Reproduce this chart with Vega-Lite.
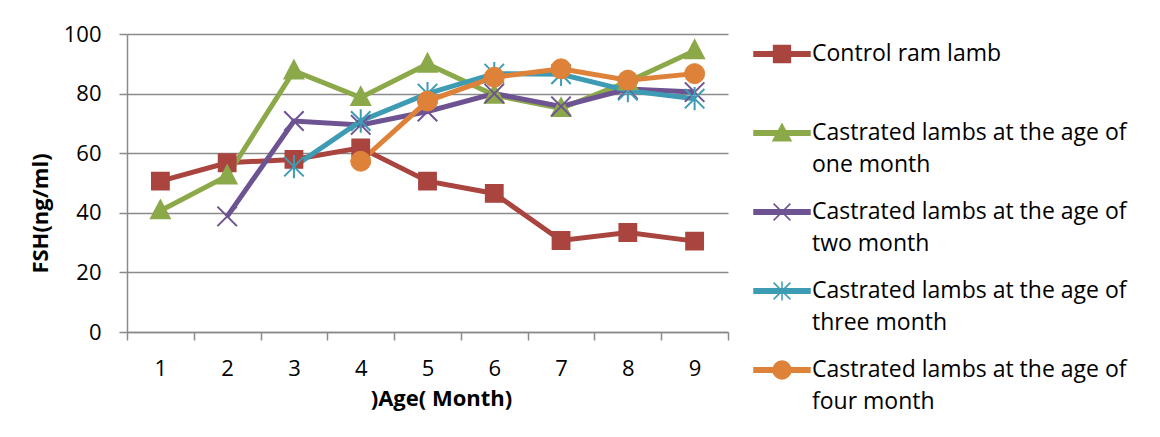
{
  "$schema": "https://vega.github.io/schema/vega-lite/v6.json",
  "width": 601,
  "height": 298,
  "autosize": {"type": "none"},
  "padding": {"left": 127, "top": 34, "right": 432, "bottom": 105},
  "background": "white",
  "config": {
    "font": "Open Sans",
    "view": {"stroke": null},
    "axis": {"labelColor": "#000000", "titleColor": "#000000"}
  },
  "data": {
    "values": [
      {"month": 1, "series": "Control ram lamb", "fsh": 50.6},
      {"month": 2, "series": "Control ram lamb", "fsh": 56.8},
      {"month": 3, "series": "Control ram lamb", "fsh": 57.9},
      {"month": 4, "series": "Control ram lamb", "fsh": 61.8},
      {"month": 5, "series": "Control ram lamb", "fsh": 50.6},
      {"month": 6, "series": "Control ram lamb", "fsh": 46.5},
      {"month": 7, "series": "Control ram lamb", "fsh": 30.7},
      {"month": 8, "series": "Control ram lamb", "fsh": 33.4},
      {"month": 9, "series": "Control ram lamb", "fsh": 30.5},
      {"month": 1, "series": "Castrated lambs at the age of one month", "fsh": 40.7},
      {"month": 2, "series": "Castrated lambs at the age of one month", "fsh": 52.4},
      {"month": 3, "series": "Castrated lambs at the age of one month", "fsh": 87.6},
      {"month": 4, "series": "Castrated lambs at the age of one month", "fsh": 78.7},
      {"month": 5, "series": "Castrated lambs at the age of one month", "fsh": 89.9},
      {"month": 6, "series": "Castrated lambs at the age of one month", "fsh": 79.5},
      {"month": 7, "series": "Castrated lambs at the age of one month", "fsh": 75.0},
      {"month": 8, "series": "Castrated lambs at the age of one month", "fsh": 84.0},
      {"month": 9, "series": "Castrated lambs at the age of one month", "fsh": 94.4},
      {"month": 2, "series": "Castrated lambs at the age of two month", "fsh": 38.8},
      {"month": 3, "series": "Castrated lambs at the age of two month", "fsh": 70.8},
      {"month": 4, "series": "Castrated lambs at the age of two month", "fsh": 69.5},
      {"month": 5, "series": "Castrated lambs at the age of two month", "fsh": 74.0},
      {"month": 6, "series": "Castrated lambs at the age of two month", "fsh": 80.0},
      {"month": 7, "series": "Castrated lambs at the age of two month", "fsh": 75.7},
      {"month": 8, "series": "Castrated lambs at the age of two month", "fsh": 81.5},
      {"month": 9, "series": "Castrated lambs at the age of two month", "fsh": 80.5},
      {"month": 3, "series": "Castrated lambs at the age of three month", "fsh": 55.5},
      {"month": 4, "series": "Castrated lambs at the age of three month", "fsh": 70.8},
      {"month": 5, "series": "Castrated lambs at the age of three month", "fsh": 80.0},
      {"month": 6, "series": "Castrated lambs at the age of three month", "fsh": 86.7},
      {"month": 7, "series": "Castrated lambs at the age of three month", "fsh": 86.5},
      {"month": 8, "series": "Castrated lambs at the age of three month", "fsh": 81.0},
      {"month": 9, "series": "Castrated lambs at the age of three month", "fsh": 78.3},
      {"month": 4, "series": "Castrated lambs at the age of four month", "fsh": 57.3},
      {"month": 5, "series": "Castrated lambs at the age of four month", "fsh": 77.5},
      {"month": 6, "series": "Castrated lambs at the age of four month", "fsh": 85.5},
      {"month": 7, "series": "Castrated lambs at the age of four month", "fsh": 88.3},
      {"month": 8, "series": "Castrated lambs at the age of four month", "fsh": 84.5},
      {"month": 9, "series": "Castrated lambs at the age of four month", "fsh": 86.7}
    ]
  },
  "resolve": {"axis": {"x": "independent"}},
  "layer": [
    {
      "mark": {"type": "line", "strokeWidth": 5},
      "encoding": {
        "x": {
          "field": "month", "type": "quantitative",
          "scale": {"domain": [0.5, 9.5], "nice": false, "zero": false},
          "axis": {
            "orient": "bottom",
            "values": [0.5, 1.5, 2.5, 3.5, 4.5, 5.5, 6.5, 7.5, 8.5, 9.5],
            "labels": false, "title": null, "grid": false,
            "ticks": true, "tickSize": 8, "tickColor": "#8a8a8a", "tickWidth": 1.5,
            "domain": true, "domainColor": "#8a8a8a", "domainWidth": 1.5
          }
        },
        "y": {
          "field": "fsh", "type": "quantitative",
          "scale": {"domain": [0, 100], "nice": false},
          "axis": {
            "values": [0, 20, 40, 60, 80, 100],
            "title": "FSH(ng/ml)",
            "titleFontSize": 22, "titleFontWeight": "bold",
            "titleX": -87, "titleY": 179, "titleBaseline": "middle", "titleAlign": "center",
            "labelFontSize": 22, "labelPadding": 18,
            "tickSize": 8, "tickColor": "#8a8a8a", "tickWidth": 1.5,
            "domainColor": "#8a8a8a", "domainWidth": 1.5,
            "grid": true, "gridColor": "#8a8a8a", "gridWidth": 1.5
          }
        },
        "color": {
          "field": "series", "type": "nominal",
          "scale": {
            "domain": [
              "Control ram lamb",
              "Castrated lambs at the age of one month",
              "Castrated lambs at the age of two month",
              "Castrated lambs at the age of three month",
              "Castrated lambs at the age of four month"
            ],
            "range": ["#A9443F", "#8CA94A", "#6E5393", "#3D9CB4", "#DF8239"]
          },
          "legend": {
            "orient": "none", "legendX": 626, "legendY": -9,
            "title": null, "padding": 0,
            "symbolSize": 3136, "symbolStrokeWidth": 1.5,
            "rowPadding": 6, "labelOffset": 1,
            "labelFontSize": 23, "labelLimit": 500, "labelColor": "#000000",
            "labelExpr": "indexof(datum.label, 'Castrated') == 0 ? ['\u2005Castrated lambs at the age of', slice(datum.label, 30)] : [datum.label, '\u00a0']",
            "encode": {
              "labels": {"update": {"lineHeight": {"value": 32}}},
              "symbols": {
                "update": {
                  "shape": {"signal": "datum.value == 'Control ram lamb' ? 'M-1,-0.08H1V0.08H-1Z M-0.3,-0.3H0.3V0.3H-0.3Z' : datum.value == 'Castrated lambs at the age of one month' ? 'M-1,-0.08H1V0.08H-1Z M0,-0.32L0.32,0.28H-0.32Z' : datum.value == 'Castrated lambs at the age of two month' ? 'M-1,-0.08H1V0.08H-1Z M-0.3,-0.3L0.3,0.3M-0.3,0.3L0.3,-0.3' : datum.value == 'Castrated lambs at the age of three month' ? 'M-1,-0.08H1V0.08H-1Z M-0.3,-0.3L0.3,0.3M-0.3,0.3L0.3,-0.3M0,-0.34V0.34' : 'M-1,-0.08H1V0.08H-1Z M-0.32,0A0.32,0.32,0,1,1,0.32,0A0.32,0.32,0,1,1,-0.32,0Z'"},
                  "fill": {"signal": "scale('color', datum.value)"},
                  "stroke": {"signal": "scale('color', datum.value)"},
                  "strokeWidth": {"value": 1.5},
                  "opacity": {"value": 1}
                }
              }
            }
          }
        }
      }
    },
    {
      "transform": [{"filter": "datum.series == 'Control ram lamb'"}],
      "mark": {"type": "point", "shape": "square", "filled": true, "opacity": 1, "size": 300, "color": "#A9443F", "stroke": "#A9443F", "strokeWidth": 1.5},
      "encoding": {
        "x": {
          "field": "month", "type": "quantitative",
          "axis": {
            "orient": "bottom",
            "values": [1, 2, 3, 4, 5, 6, 7, 8, 9],
            "ticks": false, "domain": false, "grid": false,
            "labelFontSize": 22, "labelPadding": 36, "labelBaseline": "middle",
            "title": ")Age( Month)", "titleFontSize": 22, "titleFontWeight": "bold",
            "titleX": 314, "titleY": 66, "titleBaseline": "middle", "titleAlign": "center"
          }
        },
        "y": {"field": "fsh", "type": "quantitative"}
      }
    },
    {
      "transform": [{"filter": "datum.series == 'Castrated lambs at the age of one month'"}],
      "mark": {"type": "point", "shape": "M0,-1.1L1,0.8H-1Z", "filled": true, "opacity": 1, "size": 380, "color": "#8CA94A", "stroke": "#8CA94A", "strokeWidth": 1.5},
      "encoding": {
        "x": {"field": "month", "type": "quantitative", "axis": null},
        "y": {"field": "fsh", "type": "quantitative"}
      }
    },
    {
      "transform": [{"filter": "datum.series == 'Castrated lambs at the age of two month'"}],
      "mark": {"type": "point", "shape": "M-1,-1L1,1M-1,1L1,-1", "filled": false, "opacity": 1, "size": 380, "color": "#6E5393", "stroke": "#6E5393", "strokeWidth": 2},
      "encoding": {
        "x": {"field": "month", "type": "quantitative", "axis": null},
        "y": {"field": "fsh", "type": "quantitative"}
      }
    },
    {
      "transform": [{"filter": "datum.series == 'Castrated lambs at the age of three month'"}],
      "mark": {"type": "point", "shape": "M-1,-1L1,1M-1,1L1,-1M0,-1.2V1.2", "filled": false, "opacity": 1, "size": 380, "color": "#3D9CB4", "stroke": "#3D9CB4", "strokeWidth": 2},
      "encoding": {
        "x": {"field": "month", "type": "quantitative", "axis": null},
        "y": {"field": "fsh", "type": "quantitative"}
      }
    },
    {
      "transform": [{"filter": "datum.series == 'Castrated lambs at the age of four month'"}],
      "mark": {"type": "point", "shape": "circle", "filled": true, "opacity": 1, "size": 400, "color": "#DF8239", "stroke": "#DF8239", "strokeWidth": 1},
      "encoding": {
        "x": {"field": "month", "type": "quantitative", "axis": null},
        "y": {"field": "fsh", "type": "quantitative"}
      }
    }
  ]
}
